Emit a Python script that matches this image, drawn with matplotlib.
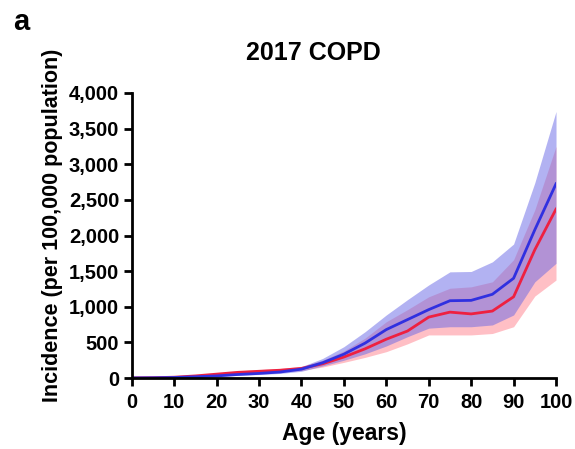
import matplotlib
matplotlib.use("Agg")
import matplotlib.pyplot as plt
from matplotlib.ticker import FuncFormatter

plt.rcParams['font.family'] = ['Liberation Sans', 'DejaVu Sans']
plt.rcParams['font.weight'] = 'bold'

ages = [0, 5, 10, 15, 20, 25, 30, 35, 40, 45, 50, 55, 60, 65, 70, 75, 80, 85, 90, 95, 100]

blue_mean = [2, 4, 8, 18, 30, 50, 65, 85, 125, 215, 335, 490, 680, 820, 960, 1085, 1090, 1175, 1400, 2080, 2725]
blue_low = [1, 3, 6, 13, 22, 38, 50, 65, 95, 170, 250, 340, 450, 580, 700, 720, 720, 745, 885, 1350, 1610]
blue_high = [3, 6, 11, 25, 40, 65, 85, 110, 160, 275, 440, 650, 885, 1100, 1306, 1490, 1495, 1630, 1880, 2740, 3740]

red_mean = [2, 5, 12, 30, 55, 80, 95, 110, 135, 200, 295, 410, 545, 660, 855, 925, 900, 940, 1140, 1800, 2370]
red_low = [1, 3, 9, 22, 42, 62, 75, 85, 105, 155, 220, 290, 370, 480, 605, 605, 605, 625, 720, 1150, 1375]
red_high = [3, 7, 16, 40, 70, 100, 118, 135, 165, 250, 380, 560, 790, 960, 1140, 1260, 1280, 1350, 1660, 2360, 3250]

fig = plt.figure(figsize=(5.75, 4.49), dpi=100)
ax = fig.add_axes([0.229, 0.158, 0.738, 0.635])

ax.fill_between(ages, red_low, red_high, color=(1.0, 0.45, 0.5), alpha=0.45, linewidth=0)
ax.fill_between(ages, blue_low, blue_high, color=(0.4, 0.4, 0.9), alpha=0.5, linewidth=0)
ax.plot(ages, red_mean, color='#ee2040', lw=2)
ax.plot(ages, blue_mean, color='#3030e0', lw=2)

ax.set_xlim(0, 100)
ax.set_ylim(0, 4000)
ax.set_xticks(range(0, 101, 10))
ax.set_yticks(range(0, 4001, 500))
ax.yaxis.set_major_formatter(FuncFormatter(lambda v, p: f"{int(v):,}"))
for s in ['top', 'right']:
    ax.spines[s].set_visible(False)
for s in ['left', 'bottom']:
    ax.spines[s].set_linewidth(2)
ax.tick_params(axis='both', width=2, length=6, labelsize=14.5, pad=3)
ax.tick_params(axis='x', pad=5)
for lab in ax.get_xticklabels() + ax.get_yticklabels():
    lab.set_fontweight('bold')

ax.set_xlabel('Age (years)', fontsize=16.5, fontweight='bold', labelpad=7)
ax.set_ylabel('Incidence (per 100,000 population)', fontsize=15.5, fontweight='bold')
ax.yaxis.set_label_coords(-0.163, 0.535)
fig.text(0.545, 0.882, '2017 COPD', fontsize=18, fontweight='bold', ha='center', va='center')
fig.text(0.022, 0.95, 'a', fontsize=21, fontweight='bold', ha='left', va='center')

fig.savefig('out.png', dpi=100)
